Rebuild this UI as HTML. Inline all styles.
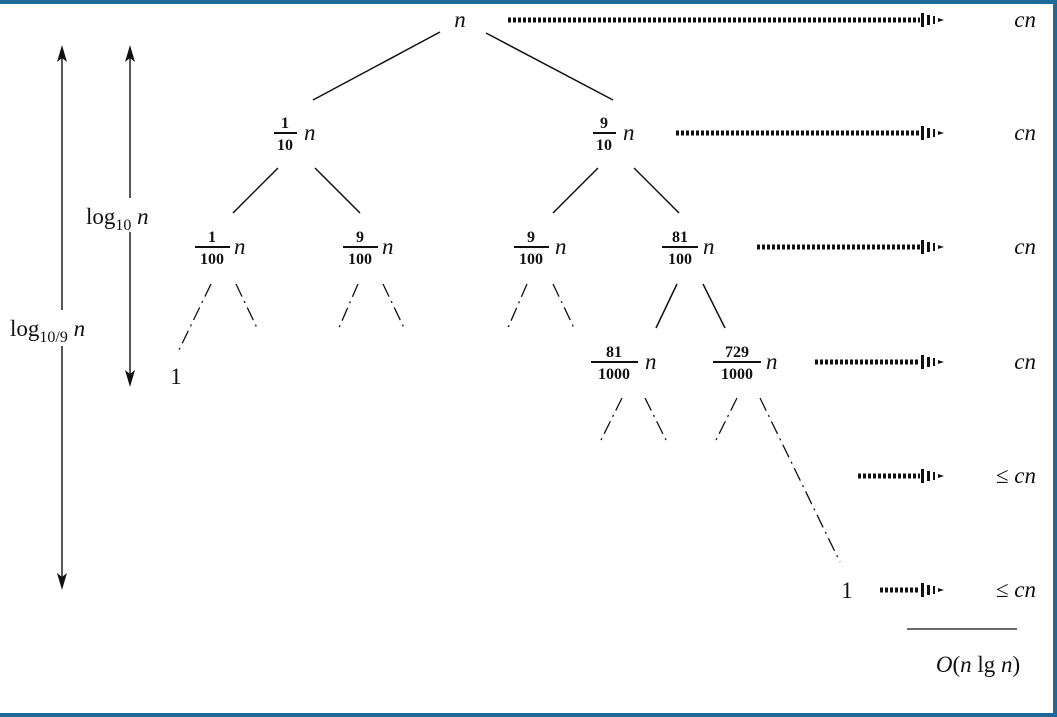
<!DOCTYPE html>
<html><head><meta charset="utf-8"><style>
html,body{margin:0;padding:0;background:#fff}
svg{display:block}
text{font-family:"Liberation Serif",serif;fill:#111}
.it{font-style:italic}
.fr{font-size:16px;font-weight:bold}
</style></head><body>
<svg width="1057" height="717" viewBox="0 0 1057 717">
<rect x="0" y="0" width="1057" height="4" fill="#1d6a98"/>
<rect x="1053" y="0" width="4" height="717" fill="#1d6a98"/>
<rect x="0" y="713" width="1057" height="4" fill="#1d6a98"/>
<g stroke="#111" stroke-width="1.5" fill="none">
<line x1="440" y1="32" x2="313" y2="100"/>
<line x1="486" y1="33" x2="613" y2="100"/>
<line x1="278" y1="168" x2="233" y2="213"/>
<line x1="315" y1="168" x2="360" y2="213"/>
<line x1="598" y1="168" x2="553" y2="213"/>
<line x1="634" y1="168" x2="679" y2="213"/>
<line x1="677" y1="284" x2="656" y2="328"/>
<line x1="703" y1="284" x2="725" y2="328"/>
</g>
<g stroke="#111" stroke-width="1.3" fill="none" stroke-dasharray="14 5 2 5">
<line x1="211" y1="284" x2="178" y2="352"/>
<line x1="236" y1="284" x2="258" y2="330"/>
<line x1="358" y1="284" x2="338" y2="330"/>
<line x1="383" y1="284" x2="405" y2="330"/>
<line x1="527" y1="284" x2="507" y2="330"/>
<line x1="553" y1="284" x2="575" y2="330"/>
<line x1="622" y1="398" x2="600" y2="442"/>
<line x1="645" y1="398" x2="667" y2="442"/>
<line x1="737" y1="398" x2="715" y2="442"/>
<line x1="760" y1="398" x2="840" y2="562"/>
</g>
<text x="460" y="27" font-size="23" class="it" text-anchor="middle">n</text>
<g>
<text x="285" y="128" class="fr" text-anchor="middle">1</text><line x1="274" y1="133" x2="297" y2="133" stroke="#111" stroke-width="2"/><text x="285" y="150" class="fr" text-anchor="middle">10</text><text x="304" y="140" font-size="23" class="it">n</text></g>
<g>
<text x="604" y="128" class="fr" text-anchor="middle">9</text><line x1="593" y1="133" x2="616" y2="133" stroke="#111" stroke-width="2"/><text x="604" y="150" class="fr" text-anchor="middle">10</text><text x="623" y="140" font-size="23" class="it">n</text></g>
<g>
<text x="212" y="242" class="fr" text-anchor="middle">1</text><line x1="195" y1="247" x2="230" y2="247" stroke="#111" stroke-width="2"/><text x="212" y="264" class="fr" text-anchor="middle">100</text><text x="234" y="254" font-size="23" class="it">n</text></g>
<g>
<text x="360" y="242" class="fr" text-anchor="middle">9</text><line x1="343" y1="247" x2="378" y2="247" stroke="#111" stroke-width="2"/><text x="360" y="264" class="fr" text-anchor="middle">100</text><text x="382" y="254" font-size="23" class="it">n</text></g>
<g>
<text x="531" y="242" class="fr" text-anchor="middle">9</text><line x1="514" y1="247" x2="549" y2="247" stroke="#111" stroke-width="2"/><text x="531" y="264" class="fr" text-anchor="middle">100</text><text x="555" y="254" font-size="23" class="it">n</text></g>
<g>
<text x="680" y="242" class="fr" text-anchor="middle">81</text><line x1="662" y1="247" x2="698" y2="247" stroke="#111" stroke-width="2"/><text x="680" y="264" class="fr" text-anchor="middle">100</text><text x="703" y="254" font-size="23" class="it">n</text></g>
<g>
<text x="614" y="357" class="fr" text-anchor="middle">81</text><line x1="591" y1="362" x2="638" y2="362" stroke="#111" stroke-width="2"/><text x="614" y="379" class="fr" text-anchor="middle">1000</text><text x="645" y="369" font-size="23" class="it">n</text></g>
<g>
<text x="737" y="357" class="fr" text-anchor="middle">729</text><line x1="713" y1="362" x2="761" y2="362" stroke="#111" stroke-width="2"/><text x="737" y="379" class="fr" text-anchor="middle">1000</text><text x="766" y="369" font-size="23" class="it">n</text></g>
<text x="176" y="384" font-size="23" text-anchor="middle">1</text>
<text x="847" y="598" font-size="23" text-anchor="middle">1</text>
<g>
<line x1="62" y1="52" x2="62" y2="583" stroke="#111" stroke-width="1.4"/>
<path d="M62 45 L67 62 L62 58 L57 62 Z M62 590 L67 573 L62 577 L57 573 Z" fill="#111"/></g>
<g>
<line x1="130" y1="52" x2="130" y2="380" stroke="#111" stroke-width="1.4"/>
<path d="M130 45 L135 62 L130 58 L125 62 Z M130 387 L135 370 L130 374 L125 370 Z" fill="#111"/></g>
<rect x="84" y="198" width="74" height="34" fill="#fff"/>
<text x="86" y="224" font-size="23">log<tspan font-size="16" dy="6">10</tspan><tspan class="it" dy="-6"> n</tspan></text>
<rect x="8" y="310" width="110" height="36" fill="#fff"/>
<text x="10" y="336" font-size="23">log<tspan font-size="16" dy="6">10/9</tspan><tspan class="it" dy="-6"> n</tspan></text>
<g id="rows"></g>
<line x1="907" y1="629" x2="1017" y2="629" stroke="#111" stroke-width="1.3"/>
<text x="978" y="672" font-size="23" text-anchor="middle"><tspan class="it">O</tspan>(<tspan class="it">n</tspan> lg <tspan class="it">n</tspan>)</text>
</svg>
<script>
const rowY=[20,133,247,362,476,590];
const rowStart=[508,676,757,815,858,880];
const rowLabel=["cn","cn","cn","cn","≤ cn","≤ cn"];
const NS="http://www.w3.org/2000/svg";
const g=document.getElementById('rows');
rowY.forEach((y,i)=>{
  const l=document.createElementNS(NS,'line');
  l.setAttribute('x1',rowStart[i]);l.setAttribute('x2',920);l.setAttribute('y1',y);l.setAttribute('y2',y);
  l.setAttribute('stroke','#111');l.setAttribute('stroke-width','5');l.setAttribute('stroke-dasharray','3 2');
  
  
  g.appendChild(l);
  const h=document.createElementNS(NS,'path');
  h.setAttribute('d',`M921 ${y-7}h3v14h-3z M927 ${y-5}h3v10h-3z M933 ${y-4}h2v8h-2z M938 ${y-2}l6 2l-6 2z`);
  h.setAttribute('fill','#111');
  
  
  g.appendChild(h);
  const t=document.createElementNS(NS,'text');
  t.setAttribute('x',1036);t.setAttribute('y',y+7);t.setAttribute('font-size','23');
  t.setAttribute('text-anchor','end');t.setAttribute('class','it');
  t.textContent=rowLabel[i];
  
  
  g.appendChild(t);
});
</script>
</body></html>
